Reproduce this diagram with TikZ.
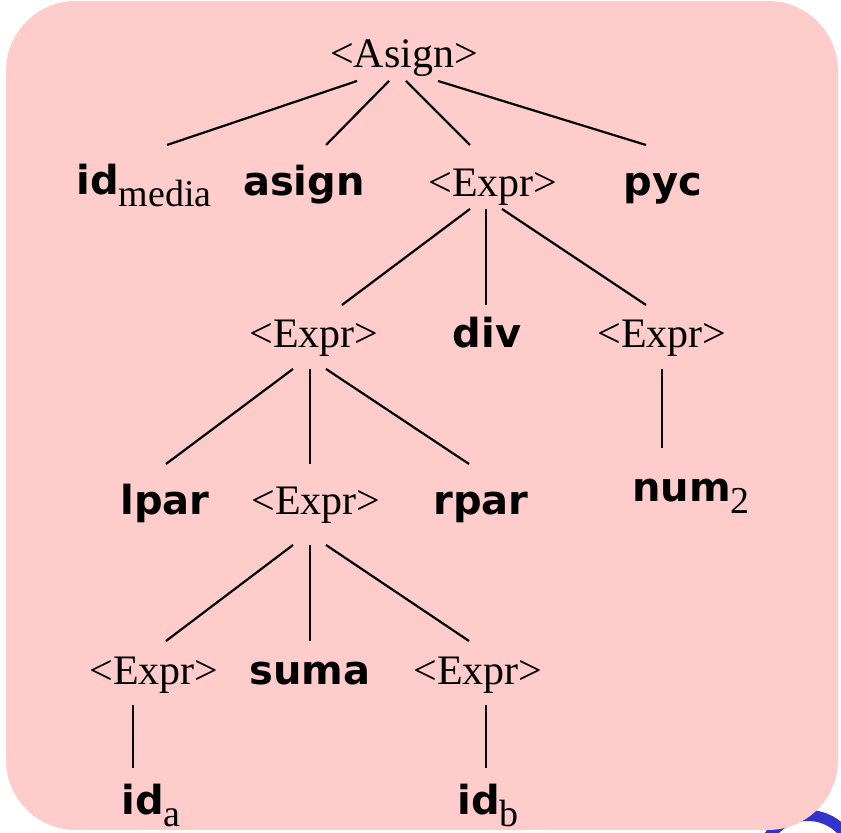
\documentclass[tikz,border=0pt]{standalone}
\usepackage{fontspec}
\setmainfont{Liberation Serif}
\newfontfamily\termfont{DejaVu Sans}

\definecolor{boxpink}{HTML}{FFCCCC}
\definecolor{ringblue}{HTML}{3333CC}

% lowered serif index after a terminal (id_a, num_2, ...)
\newcommand{\low}[1]{\raisebox{-6pt}{\normalfont\fontsize{19}{19}\selectfont #1}}

\begin{document}
\begin{tikzpicture}[
    x=0.5pt, y=0.5pt,
    % Styles
    nonterm/.style={inner sep=0pt, anchor=base, font=\fontsize{21}{25}\selectfont},
    term/.style={inner sep=0pt, anchor=base, font=\termfont\bfseries\fontsize{20}{24}\selectfont},
    edge/.style={black, line width=1.1pt},
    ring/.style={ringblue, line width=5.5pt},
    panel/.style={fill=boxpink, rounded corners=35pt}
]
    \useasboundingbox (0,0) rectangle (841,833);

    % ==========================================
    % 1. BACKGROUND
    % ==========================================
    \begin{scope}
        \clip (0,0) rectangle (841,833);
        \draw[ring] (808,-29) circle (46.5);
    \end{scope}
    \fill[panel] (6,3) rectangle (838,832);

    % ==========================================
    % 2. TREE NODES (one row per level)
    % ==========================================
    \node[nonterm] (root) at (404,765) {<Asign>};

    \node[term]    (idm)    at (144,638) {id\low{media}};
    \node[term]    (tasign) at (304,637) {asign};
    \node[nonterm] (ex1)    at (493,636) {<Expr>};
    \node[term]    (pyc)    at (663,637) {pyc};

    \node[nonterm] (ex2)    at (314,485) {<Expr>};
    \node[term]    (div)    at (487,485) {div};
    \node[nonterm] (ex3)    at (662,485) {<Expr>};

    \node[term]    (lpar)   at (165,318) {lpar};
    \node[nonterm] (ex4)    at (316,318) {<Expr>};
    \node[term]    (rpar)   at (481,318) {rpar};
    \node[term]    (num)    at (691,331) {num\low{2}};

    \node[nonterm] (ex5)    at (154,148) {<Expr>};
    \node[term]    (suma)   at (310,148) {suma};
    \node[nonterm] (ex6)    at (478,148) {<Expr>};

    \node[term]    (ida)    at (151,18) {id\low{a}};
    \node[term]    (idb)    at (488,18) {id\low{b}};

    % ==========================================
    % 3. EDGES (parent -> children)
    % ==========================================
    % <Asign>
    \draw[edge] ([shift={(-47,-13)}]root.base) -- ([shift={(23,50)}]idm.base);
    \draw[edge] ([shift={(-15,-13)}]root.base) -- ([shift={(22,51)}]tasign.base);
    \draw[edge] ([shift={(2,-13)}]root.base)   -- ([shift={(-23,52)}]ex1.base);
    \draw[edge] ([shift={(34,-13)}]root.base)  -- ([shift={(-17,51)}]pyc.base);

    % <Expr> div <Expr>
    \draw[edge] ([shift={(-23,-12)}]ex1.base) -- ([shift={(28,43)}]ex2.base);
    \draw[edge] ([shift={(-7,-12)}]ex1.base)  -- ([shift={(-1,43)}]div.base);
    \draw[edge] ([shift={(9,-12)}]ex1.base)   -- ([shift={(-16,43)}]ex3.base);

    % lpar <Expr> rpar
    \draw[edge] ([shift={(-21,-21)}]ex2.base) -- ([shift={(1,51)}]lpar.base);
    \draw[edge] ([shift={(-4,-21)}]ex2.base)  -- ([shift={(-6,51)}]ex4.base);
    \draw[edge] ([shift={(12,-21)}]ex2.base)  -- ([shift={(-12,51)}]rpar.base);
    \draw[edge] ([shift={(0,-21)}]ex3.base)   -- ([shift={(-29,54)}]num.base);

    % <Expr> suma <Expr>
    \draw[edge] ([shift={(-23,-30)}]ex4.base) -- ([shift={(12,44)}]ex5.base);
    \draw[edge] ([shift={(-6,-30)}]ex4.base)  -- ([shift={(0,44)}]suma.base);
    \draw[edge] ([shift={(10,-30)}]ex4.base)  -- ([shift={(-9,44)}]ex6.base);

    % leaves
    \draw[edge] ([shift={(-21,-20)}]ex5.base) -- ([shift={(-18,47)}]ida.base);
    \draw[edge] ([shift={(8,-20)}]ex6.base)   -- ([shift={(-2,47)}]idb.base);

\end{tikzpicture}
\end{document}
